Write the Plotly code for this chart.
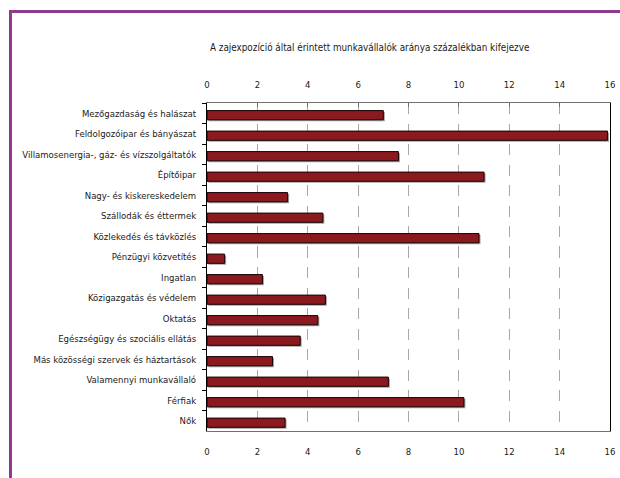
import plotly.graph_objects as go

categories = [
    "Mezőgazdaság és halászat",
    "Feldolgozóipar és bányászat",
    "Villamosenergia-, gáz- és vízszolgáltatók",
    "Építőipar",
    "Nagy- és kiskereskedelem",
    "Szállodák és éttermek",
    "Közlekedés és távközlés",
    "Pénzügyi közvetítés",
    "Ingatlan",
    "Közigazgatás és védelem",
    "Oktatás",
    "Egészségügy és szociális ellátás",
    "Más közösségi szervek és háztartások",
    "Valamennyi munkavállaló",
    "Férfiak",
    "Nők",
]
values = [7.0, 15.9, 7.6, 11.0, 3.2, 4.6, 10.8, 0.7, 2.2, 4.7, 4.4, 3.7, 2.6, 7.2, 10.2, 3.1]
x_ticks = [0, 2, 4, 6, 8, 10, 12, 14, 16]
axis_title = "A zajexpozíció által érintett munkavállalók aránya százalékban kifejezve"

FONT = "DejaVu Sans Condensed, sans-serif"

fig = go.Figure()
# shadow
fig.add_trace(go.Bar(
    y=categories, x=values, orientation="h", xaxis="x", yaxis="y",
    base=0.06, width=0.45, offset=-0.06,
    marker=dict(color="#a0a0a0", line=dict(width=0)),
    hoverinfo="skip", showlegend=False,
))
# main bars
fig.add_trace(go.Bar(
    y=categories, x=values, orientation="h", xaxis="x2", yaxis="y",
    width=0.45, offset=-0.13,
    marker=dict(color="#8a1a1f", line=dict(color="#1a0000", width=1)),
    showlegend=False,
))

W, H = 620, 478
L, R, T, B = 207, 10, 103, 47
pw, ph = W - L - R, H - T - B

def px(xp):
    return (xp - L) / pw

def py(yp):
    return (H - B - yp) / ph

fig.update_layout(
    width=W, height=H,
    margin=dict(l=L, r=R, t=T, b=B, autoexpand=False),
    paper_bgcolor="white", plot_bgcolor="white",
    font=dict(family=FONT, size=10, color="#1a1a1a"),
    xaxis=dict(
        side="top", range=[0, 16], tickvals=x_ticks, ticktext=[str(v) for v in x_ticks],
        showgrid=True, gridcolor="#a8a8a8", gridwidth=1, griddash="11px,9.5px",
        showline=True, linecolor="#707070", linewidth=1,
        ticks="inside", ticklen=4, tickcolor="#707070",
        tickfont=dict(size=9.5), ticklabelstandoff=10,
        zeroline=False, fixedrange=True, automargin=False,
    ),
    xaxis2=dict(
        side="bottom", overlaying="x", matches="x", range=[0, 16], tickvals=x_ticks,
        ticktext=[str(v) for v in x_ticks],
        showgrid=False, showline=True, linecolor="#707070", linewidth=1,
        ticks="", tickfont=dict(size=9.5), ticklabelstandoff=12,
        zeroline=False, fixedrange=True, automargin=False,
    ),
    yaxis=dict(
        type="category", categoryorder="array", categoryarray=categories,
        autorange="reversed",
        showline=True, linecolor="black", linewidth=1, mirror=True,
        ticks="outside", ticklen=4, tickcolor="black", tickson="boundaries",
        tickfont=dict(size=9.5), ticklabelstandoff=8,
        showgrid=False, zeroline=False, fixedrange=True, automargin=False,
    ),
    annotations=[dict(
        text=axis_title, xref="paper", yref="paper",
        x=px(369), y=py(47), xanchor="center", yanchor="middle",
        showarrow=False, font=dict(size=9.8),
    )],
    shapes=[
        dict(type="line", xref="paper", yref="paper",
             x0=px(10), x1=px(622), y0=py(11.5), y1=py(11.5),
             line=dict(color="#8e3b8e", width=3)),
        dict(type="line", xref="paper", yref="paper",
             x0=px(10.5), x1=px(10.5), y0=py(10), y1=py(480),
             line=dict(color="#8e3b8e", width=3)),
    ],
)

fig.write_html("out.html")
